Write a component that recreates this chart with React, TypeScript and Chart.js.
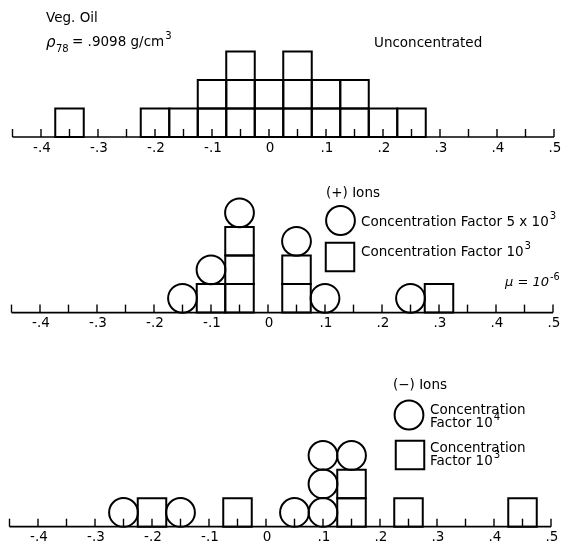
import React, { useEffect, useRef } from "react";
import { Chart, registerables } from "chart.js";

Chart.register(...registerables);

// ---- axis ----
const AXIS_MIN = -0.45;
const AXIS_MAX = 0.5;
const MINOR_STEP = 0.05;
const TICK_VALUES = [-0.4, -0.3, -0.2, -0.1, 0, 0.1, 0.2, 0.3, 0.4, 0.5];
const TICK_LABELS = ["-.4", "-.3", "-.2", "-.1", "0", ".1", ".2", ".3", ".4", ".5"];

// ---- panel 1: unconcentrated (squares) ----
const UNCONC_X = [-0.35, -0.2, -0.15, -0.1, -0.05, 0, 0.05, 0.1, 0.15, 0.2, 0.25];
const UNCONC_COUNT = [1, 1, 1, 2, 3, 2, 3, 2, 2, 1, 1];

// ---- panel 2: (+) ions ----
const PLUS_SQUARE_X = [-0.1, -0.05, 0.05, 0.3]; // factor 10^3
const PLUS_SQUARE_COUNT = [1, 3, 2, 1];
const PLUS_CIRCLE_X = [-0.15, -0.1, -0.05, 0.05, 0.1, 0.25]; // factor 5x10^3
const PLUS_CIRCLE_COUNT = [1, 1, 1, 1, 1, 1];

// ---- panel 3: (-) ions ----
const MINUS_SQUARE_X = [-0.2, -0.05, 0.15, 0.25, 0.45]; // factor 10^3
const MINUS_SQUARE_COUNT = [1, 1, 2, 1, 1];
const MINUS_CIRCLE_X = [-0.25, -0.15, 0.05, 0.1, 0.15]; // factor 10^4
const MINUS_CIRCLE_COUNT = [1, 1, 1, 3, 1];

const INK = "#000";
const FONT = "'DejaVu Sans', sans-serif";
const CELL = 28.5; // px per level
const SQUARE_R = CELL / Math.SQRT2;
const CIRCLE_R = 14.4;

type Pt = { x: number; y: number };

function stackPoints(xs: number[], counts: number[], baseXs?: number[], baseCounts?: number[]): Pt[] {
  const pts: Pt[] = [];
  xs.forEach((x, i) => {
    let base = 0;
    if (baseXs && baseCounts) {
      const bi = baseXs.findIndex((b) => Math.abs(b - x) < 1e-9);
      if (bi >= 0) base = baseCounts[bi];
    }
    for (let k = 0; k < counts[i]; k++) pts.push({ x, y: base + k + 0.5 });
  });
  return pts;
}

function squareSet(data: Pt[]) {
  return {
    data,
    pointStyle: "rect",
    pointRadius: SQUARE_R,
    borderColor: INK,
    backgroundColor: "rgba(0,0,0,0)",
    borderWidth: 2,
    showLine: false,
    clip: false as any,
  };
}
function circleSet(data: Pt[]) {
  return {
    data,
    pointStyle: "circle",
    pointRadius: CIRCLE_R,
    borderColor: INK,
    backgroundColor: "rgba(0,0,0,0)",
    borderWidth: 2,
    showLine: false,
    clip: false as any,
  };
}

function text(ctx: CanvasRenderingContext2D, s: string, x: number, y: number, size: number, align: CanvasTextAlign = "left", style = "") {
  ctx.font = `${style} ${size}px ${FONT}`.trim();
  ctx.fillStyle = INK;
  ctx.textAlign = align;
  ctx.textBaseline = "middle";
  ctx.fillText(s, x, y);
  return ctx.measureText(s).width;
}

function textSup(ctx: CanvasRenderingContext2D, s: string, sup: string, x: number, y: number, size: number, style = "") {
  const w = text(ctx, s, x, y, size, "left", style);
  text(ctx, sup, x + w + 1, y - 6, size * 0.75);
}

const axisPlugin = {
  id: "numberLine",
  beforeDatasetsDraw(chart: any) {
    const ctx: CanvasRenderingContext2D = chart.ctx;
    const xs = chart.scales.x;
    const ys = chart.scales.y;
    const y0 = ys.getPixelForValue(0);
    ctx.save();
    ctx.strokeStyle = INK;
    ctx.lineWidth = 1.7;
    ctx.beginPath();
    ctx.moveTo(xs.getPixelForValue(AXIS_MIN), y0);
    ctx.lineTo(xs.getPixelForValue(AXIS_MAX), y0);
    ctx.stroke();
    ctx.lineWidth = 1.4;
    const n = Math.round((AXIS_MAX - AXIS_MIN) / MINOR_STEP);
    for (let i = 0; i <= n; i++) {
      const px = xs.getPixelForValue(AXIS_MIN + i * MINOR_STEP);
      ctx.beginPath();
      ctx.moveTo(px, y0);
      ctx.lineTo(px, y0 - 8);
      ctx.stroke();
    }
    TICK_VALUES.forEach((v, i) => {
      text(ctx, TICK_LABELS[i], xs.getPixelForValue(v) + 1, y0 + 11, 13.5, "center");
    });
    ctx.restore();
  },
};

function legendCircle(ctx: CanvasRenderingContext2D, x: number, y: number) {
  ctx.beginPath();
  ctx.arc(x, y, CIRCLE_R, 0, Math.PI * 2);
  ctx.stroke();
}
function legendSquare(ctx: CanvasRenderingContext2D, x: number, y: number) {
  ctx.strokeRect(x - CELL / 2, y - CELL / 2, CELL, CELL);
}

function annot(id: string, draw: (ctx: CanvasRenderingContext2D) => void) {
  return {
    id,
    afterDraw(chart: any) {
      const ctx: CanvasRenderingContext2D = chart.ctx;
      ctx.save();
      ctx.strokeStyle = INK;
      ctx.lineWidth = 2;
      draw(ctx);
      ctx.restore();
    },
  };
}

const annot1 = annot("a1", (ctx) => {
  text(ctx, "Veg. Oil", 46, 18, 13.5);
  text(ctx, "ρ", 46, 43, 15, "left", "italic");
  text(ctx, "78", 56, 49, 10);
  textSup(ctx, "= .9098 g/cm", "3", 72, 42, 13.5);
  text(ctx, "Unconcentrated", 374, 43, 13.5);
});

const annot2 = annot("a2", (ctx) => {
  text(ctx, "(+) Ions", 326, 18, 13.5);
  legendCircle(ctx, 340.5, 45.5);
  textSup(ctx, "Concentration Factor 5 x 10", "3", 361, 47, 13.5);
  legendSquare(ctx, 340, 82);
  textSup(ctx, "Concentration Factor 10", "3", 361, 77, 13.5);
  textSup(ctx, "μ = 10", "-6", 505, 108, 13, "italic");
});

const annot3 = annot("a3", (ctx) => {
  text(ctx, "(−) Ions", 393, 30, 13.5);
  legendCircle(ctx, 409, 60);
  text(ctx, "Concentration", 430, 55, 13.5);
  textSup(ctx, "Factor 10", "4", 430, 68, 13.5);
  legendSquare(ctx, 410, 100);
  text(ctx, "Concentration", 430, 93, 13.5);
  textSup(ctx, "Factor 10", "3", 430, 106, 13.5);
});

type Panel = {
  top: number;
  height: number;
  padding: { left: number; right: number; top: number; bottom: number };
  datasets: any[];
  plugin: any;
};

const PANELS: Panel[] = [
  {
    top: 0,
    height: 175,
    padding: { left: 12.5, right: 11, top: 23, bottom: 38 },
    datasets: [squareSet(stackPoints(UNCONC_X, UNCONC_COUNT))],
    plugin: annot1,
  },
  {
    top: 175,
    height: 180,
    padding: { left: 11.5, right: 12, top: 23.6, bottom: 42.4 },
    datasets: [
      squareSet(stackPoints(PLUS_SQUARE_X, PLUS_SQUARE_COUNT)),
      circleSet(stackPoints(PLUS_CIRCLE_X, PLUS_CIRCLE_COUNT, PLUS_SQUARE_X, PLUS_SQUARE_COUNT)),
    ],
    plugin: annot2,
  },
  {
    top: 355,
    height: 193,
    padding: { left: 9.5, right: 14, top: 57.7, bottom: 21.3 },
    datasets: [
      squareSet(stackPoints(MINUS_SQUARE_X, MINUS_SQUARE_COUNT)),
      circleSet(stackPoints(MINUS_CIRCLE_X, MINUS_CIRCLE_COUNT, MINUS_SQUARE_X, MINUS_SQUARE_COUNT)),
    ],
    plugin: annot3,
  },
];

function PanelChart({ panel }: { panel: Panel }) {
  const ref = useRef<HTMLCanvasElement | null>(null);
  useEffect(() => {
    if (!ref.current) return;
    const chart = new Chart(ref.current, {
      type: "scatter",
      data: { datasets: panel.datasets },
      options: {
        animation: false,
        responsive: false,
        events: [],
        layout: { padding: panel.padding, autoPadding: false },
        scales: {
          x: { type: "linear", min: AXIS_MIN, max: AXIS_MAX, display: false },
          y: { type: "linear", min: 0, max: 4, display: false },
        },
        plugins: { legend: { display: false }, tooltip: { enabled: false } },
      } as any,
      plugins: [axisPlugin, panel.plugin],
    });
    return () => chart.destroy();
  }, [panel]);
  return (
    <canvas
      ref={ref}
      width={565}
      height={panel.height}
      style={{ position: "absolute", left: 0, top: panel.top, width: 565, height: panel.height }}
    />
  );
}

export default function App() {
  return (
    <div style={{ position: "absolute", left: 0, top: 0, width: 565, height: 548, background: "#fff" }}>
      {PANELS.map((p, i) => (
        <PanelChart key={i} panel={p} />
      ))}
    </div>
  );
}
